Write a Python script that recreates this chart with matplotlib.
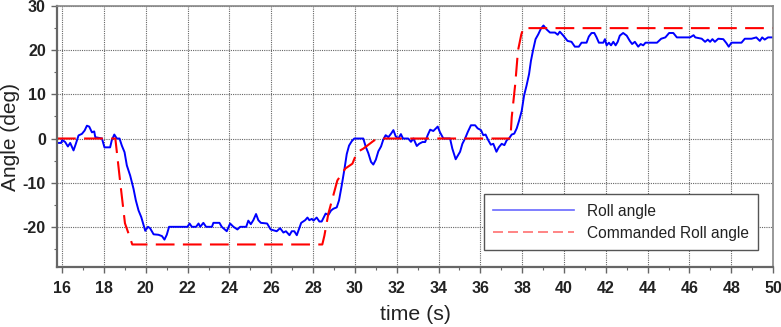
import numpy as np
import matplotlib.pyplot as plt
from matplotlib.lines import Line2D
from matplotlib.ticker import MultipleLocator

# roll angle (time in s, angle in deg)
roll_t = [15.75, 15.95, 16.0, 16.14, 16.27, 16.38, 16.54, 16.65, 16.78, 16.94,
          17.07, 17.18, 17.29, 17.42, 17.53, 17.58, 17.9, 18.02, 18.29, 18.37,
          18.49, 18.61, 18.74, 18.85, 18.98, 19.09, 19.25, 19.41, 19.52, 19.65,
          19.78, 19.89, 19.97, 20.1, 20.2, 20.37, 20.6, 20.77, 20.89, 21.0,
          21.11, 21.64, 21.99, 22.09, 22.2, 22.4, 22.52, 22.6, 22.75, 22.88,
          23.16, 23.23, 23.52, 23.63, 23.87, 24.03, 24.19, 24.38, 24.51, 24.8,
          24.9, 25.02, 25.14, 25.27, 25.38, 25.5, 25.8, 25.97, 26.26, 26.42,
          26.58, 26.7, 26.87, 26.98, 27.1, 27.22, 27.35, 27.43, 27.62, 27.73,
          27.82, 27.94, 28.02, 28.17, 28.3, 28.41, 28.6, 28.73, 28.86, 28.97,
          29.13, 29.24, 29.37, 29.5, 29.61, 29.72, 29.85, 29.97, 30.4, 30.52,
          30.64, 30.77, 30.88, 31.0, 31.12, 31.25, 31.36, 31.47, 31.6, 31.73,
          31.84, 31.95, 32.08, 32.2, 32.3, 32.55, 32.68, 32.8, 32.96, 33.07,
          33.23, 33.36, 33.48, 33.6, 33.75, 33.96, 34.07, 34.23, 34.55, 34.66,
          34.82, 34.92, 35.03, 35.14, 35.27, 35.4, 35.55, 35.75, 35.87, 36.03,
          36.14, 36.25, 36.38, 36.5, 36.62, 36.77, 36.88, 37.02, 37.15, 37.26,
          37.37, 37.5, 37.62, 37.74, 37.85, 37.98, 38.09, 38.21, 38.33, 38.42,
          38.53, 38.64, 38.77, 38.9, 39.02, 39.17, 39.33, 39.57, 39.7, 39.8,
          39.97, 40.17, 40.36, 40.52, 40.71, 40.84, 41.08, 41.19, 41.32, 41.45,
          41.56, 41.67, 41.88, 41.96, 42.04, 42.15, 42.25, 42.36, 42.47, 42.57,
          42.67, 42.83, 43.0, 43.15, 43.26, 43.39, 43.55, 43.67, 43.79, 43.9,
          44.08, 44.45, 44.65, 44.85, 45.03, 45.23, 45.4, 46.03, 46.2, 46.28,
          46.59, 46.75, 46.88, 46.99, 47.1, 47.22, 47.38, 47.62, 47.77, 47.88,
          48.01, 48.49, 48.65, 48.97, 49.2, 49.37, 49.48, 49.6, 49.76, 50.0]
roll_deg = [-1.0, -1.0, -0.3, -0.8, -1.8, -1.0, -2.7, -1.2, 0.7, 1.05,
            1.8, 2.9, 2.7, 1.4, 1.6, 0.3, 0.0, -2.0, -2.0, -0.4,
            0.9, 0.0, 0.0, -1.6, -3.1, -6.1, -8.4, -11.4, -14.0, -16.3,
            -17.8, -19.6, -20.9, -20.0, -20.3, -21.7, -21.8, -22.1, -22.9, -21.8,
            -20.0, -20.0, -20.0, -19.25, -20.0, -20.0, -19.25, -20.0, -19.1, -20.0,
            -20.0, -19.1, -19.1, -20.0, -21.0, -19.25, -20.0, -20.6, -20.0, -20.0,
            -18.6, -19.4, -18.5, -17.1, -18.5, -19.1, -19.25, -20.6, -21.0, -20.3,
            -21.3, -21.0, -21.9, -21.0, -21.0, -21.9, -20.2, -19.1, -18.5, -17.9,
            -18.5, -18.2, -18.6, -17.9, -18.8, -18.8, -17.0, -17.3, -16.3, -15.9,
            -15.6, -14.0, -10.6, -6.9, -3.5, -1.6, -0.6, 0.0, 0.0, -1.9,
            -3.3, -5.3, -5.9, -4.8, -2.9, -1.8, -0.2, 0.75, 0.3, 1.1,
            1.9, 0.5, 0.0, 1.0, 0.0, 0.0, -0.75, 0.0, -1.7, -1.2,
            -0.8, -0.8, 0.75, 2.0, 1.7, 2.7, 1.4, 0.0, 0.0, -2.3,
            -4.7, -3.9, -3.0, -1.2, 0.0, 1.5, 3.0, 3.0, 2.3, 1.9,
            0.75, 0.9, -0.4, -1.4, -1.2, -3.0, -2.0, -1.2, -1.5, -0.4,
            0.0, 0.9, 1.1, 2.3, 4.0, 6.3, 9.7, 12.0, 14.6, 17.6,
            20.2, 22.5, 23.6, 24.9, 25.6, 24.7, 24.0, 24.0, 23.5, 24.2,
            23.3, 22.1, 21.9, 20.8, 20.8, 21.7, 21.7, 23.1, 23.9, 23.9,
            22.9, 21.7, 21.7, 22.5, 21.1, 21.7, 21.1, 21.9, 21.1, 21.9,
            23.3, 23.9, 23.3, 22.1, 21.4, 21.9, 20.8, 21.4, 21.1, 21.7,
            21.7, 21.7, 22.6, 22.9, 23.9, 23.9, 22.9, 22.9, 23.4, 22.9,
            22.6, 21.9, 22.4, 21.9, 22.5, 21.9, 22.6, 22.5, 21.6, 20.8,
            21.7, 21.7, 22.6, 22.6, 22.9, 22.1, 22.9, 22.4, 22.9, 22.9]

# commanded roll angle
cmd_t = [15.75, 18.54, 18.78, 19.0, 19.25, 19.35, 28.44, 28.54, 28.73, 29.16,
         29.54, 29.88, 30.1, 30.4, 30.9, 31.1, 37.44, 37.5, 37.67, 37.8,
         37.96, 38.06, 50.0]
cmd_deg = [0, 0, -10.2, -19.2, -22.6, -24, -24, -22, -17, -9.5,
           -6.8, -5.7, -3.1, -2.3, -0.5, 0, 0, 4.8, 12.4, 19.9,
           23.6, 25, 25]

plt.rcParams['font.family'] = ['Liberation Sans', 'DejaVu Sans']
plt.rcParams['axes.unicode_minus'] = False

fig = plt.figure(figsize=(7.81, 3.27), dpi=100)
ax = fig.add_axes([0.073, 0.1835, 0.9168, 0.798])

ax.plot(roll_t, roll_deg, color='#0000ff', lw=1.4, label='Roll angle')
ax.plot(cmd_t, cmd_deg, color='#ff0000', lw=1.5, dashes=(9, 4),
        label='Commanded Roll angle')

ax.set_xlim(15.75, 50)
ax.set_ylim(-29.1, 30)
ax.xaxis.set_major_locator(MultipleLocator(2))
ax.xaxis.set_minor_locator(MultipleLocator(1))
ax.yaxis.set_minor_locator(MultipleLocator(5))
ax.set_yticks([-20, -10, 0, 10, 20, 30])

ax.grid(True, which='major', color='#666666', linestyle=(0, (1, 1)), lw=0.8)
for s in ax.spines.values():
    s.set_color('#888888')
    s.set_linewidth(1.2)
ax.spines['left'].set_color('#666666')
ax.spines['left'].set_linewidth(1.6)
ax.spines['bottom'].set_color('#666666')
ax.spines['bottom'].set_linewidth(1.6)

ax.tick_params(which='major', direction='out', length=4, width=1,
               color='#666666', labelsize=11.5, pad=4)
ax.tick_params(which='minor', direction='out', length=2.5, width=0.8,
               color='#666666')
ax.tick_params(axis='x', pad=6)
for lab in ax.get_xticklabels() + ax.get_yticklabels():
    lab.set_fontweight('bold')
    lab.set_color('#222222')

ax.set_xlabel('time (s)', fontsize=15.3, color='#222222')
ax.set_ylabel('Angle (deg)', fontsize=15, color='#222222')
ax.xaxis.set_label_coords(0.501, -0.146)
ax.yaxis.set_label_coords(-0.051, 0.5)

handles = [Line2D([], [], color='#6868ff', lw=1.2),
           Line2D([], [], color='#ff7070', lw=1.2, dashes=(6, 3))]
leg = ax.legend(handles, ['Roll angle', 'Commanded Roll angle'],
                loc='lower right', bbox_to_anchor=(0.979, 0.065),
                borderaxespad=0, fontsize=11.2, handlelength=5.2,
                handletextpad=0.8, labelspacing=0.45, borderpad=0.6,
                fancybox=False, framealpha=1, edgecolor='#555555')
leg.get_frame().set_linewidth(1.0)
for t in leg.get_texts():
    t.set_color('#222222')

fig.savefig('out.png', dpi=100)
